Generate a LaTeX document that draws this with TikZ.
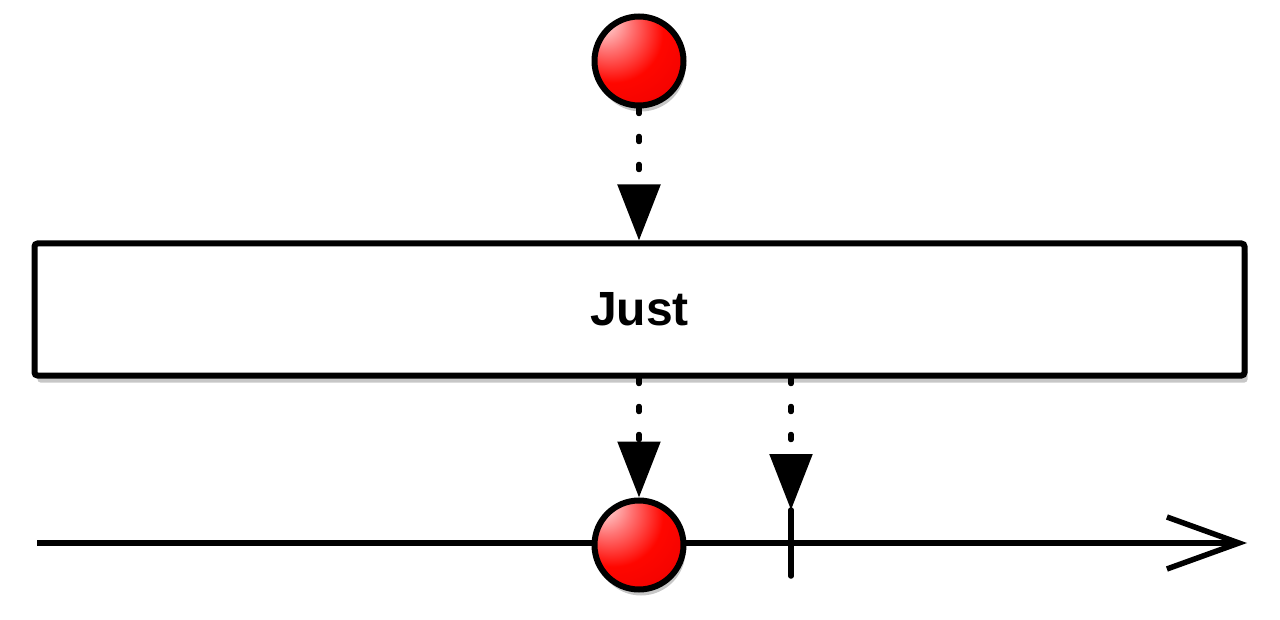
\documentclass[tikz,border=0pt]{standalone}
\usepackage{fontspec}
\setmainfont{Liberation Sans}
\usetikzlibrary{arrows.meta,shadows}
\pgfdeclareradialshading{redball}{\pgfpoint{-22bp}{24bp}}{%
  color(0bp)=(white);
  color(4bp)=(white!80!red);
  color(14bp)=(red!55!white);
  color(28bp)=(red!95!orange);
  color(50bp)=(red!92!black);
  color(68bp)=(red!55!black);
  color(82bp)=(red!35!black)}
\tikzset{
  ball/.style={circle, draw=black, line width=6pt, minimum size=89pt, inner sep=0pt,
    shading=redball, drop shadow={shadow xshift=2pt, shadow yshift=-6pt, opacity=0.22, fill=black}},
  opbox/.style={rectangle, draw=black, fill=white, line width=6pt, rounded corners=3pt,
    minimum width=1210pt, minimum height=132pt, inner sep=0pt,
    font=\bfseries\fontsize{48}{52}\selectfont,
    drop shadow={shadow xshift=3pt, shadow yshift=-7pt, opacity=0.22, fill=black}},
  emit/.style={line width=5.5pt, line cap=round, dash pattern=on 5pt off 23pt,
    -{Triangle[length=56pt,width=42pt,line cap=butt]}},
  timeline/.style={line width=5.5pt, -{Straight Barb[length=72pt,width=52pt,line width=5.5pt]}},
  tickline/.style={line width=5.5pt, line cap=round}
}
\begin{document}
\begin{tikzpicture}[x=1pt,y=-1pt]
\useasboundingbox (0,0) rectangle (1280,620);
% timeline
\coordinate (tlstart) at (37,543);
\coordinate (tlend) at (1247,543);
\draw[timeline] (tlstart) -- (tlend);
% nodes
\node[ball] (ball1) at (639,61) {};
\node[opbox] (box) at (639.5,309.5) {Just};
\node[ball] (ball2) at (639,545) {};
\coordinate (ticktop) at (791,510);
\coordinate (tickbot) at (791,576);
\draw[tickline] (ticktop) -- (tickbot);
% connectors
\draw[emit] (ball1.south) -- (box.north -| ball1.south);
\draw[emit] (box.south -| ball2.north) -- (ball2.north);
\draw[emit] (box.south -| ticktop) -- (ticktop);
\end{tikzpicture}
\end{document}
